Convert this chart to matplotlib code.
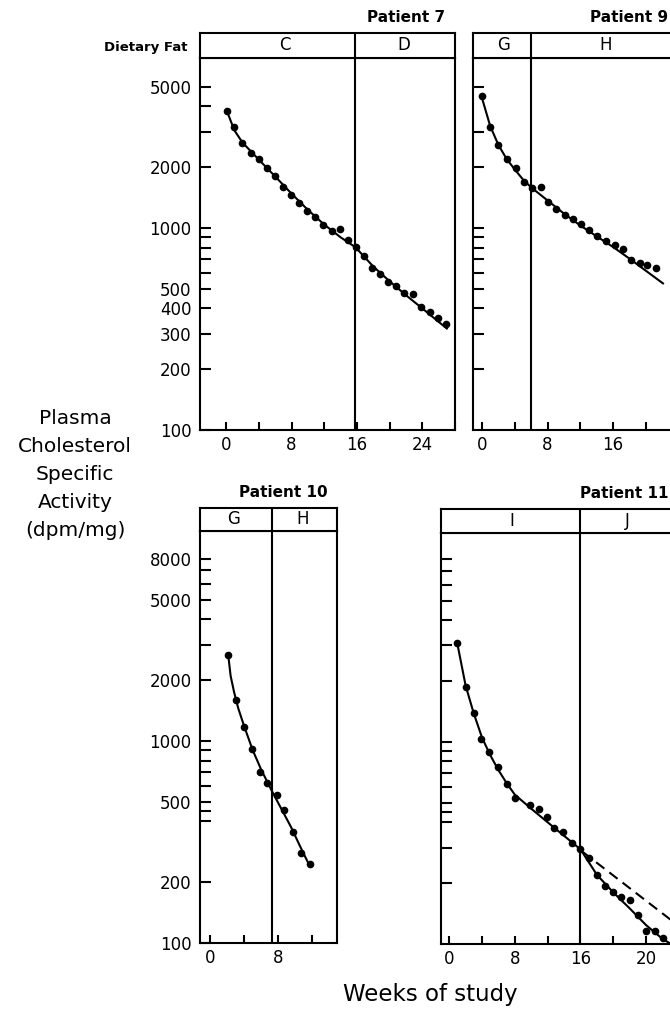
import matplotlib
matplotlib.use("Agg")
from matplotlib import pyplot as plt
from matplotlib.ticker import FixedLocator, FixedFormatter, NullFormatter

# Patient 7 (diet C then D)
p7_weeks = [0.1, 1.0, 2.0, 3.0, 4.0, 5.0, 6.0, 6.9, 7.9, 8.9, 9.9, 10.9, 11.9, 13.0,
            13.9, 14.9, 15.9, 16.9, 17.8, 18.8, 19.8, 20.8, 21.8, 22.9, 23.9, 24.9, 25.9, 26.9]
p7_activity = [3800, 3150, 2630, 2340, 2190, 1980, 1800, 1590, 1460, 1330, 1220, 1130, 1040, 967,
               985, 873, 809, 728, 631, 589, 538, 518, 475, 470, 408, 385, 360, 334]
p7_fit_weeks = [0.2, 1, 2, 4, 6, 8, 10, 12, 14, 15.8, 18, 20, 22, 24, 27]
p7_fit = [3700, 3050, 2650, 2180, 1800, 1480, 1230, 1040, 900, 805, 645, 545, 465, 400, 318]

# Patient 9 (diet G then H)
p9_weeks = [0, 1.0, 2.0, 3.0, 4.1, 5.1, 6.1, 7.2, 8.1, 9.0, 10.1, 11.1, 12.1, 13.1,
            14.1, 15.1, 16.2, 17.2, 18.2, 19.3, 20.2, 21.3]
p9_activity = [4510, 3180, 2580, 2200, 1980, 1700, 1575, 1590, 1340, 1245, 1164, 1112, 1043, 975,
               914, 864, 822, 791, 693, 675, 655, 635]
p9_fit_weeks = [0, 1, 2, 3, 4, 5, 6, 8, 10, 12, 14, 16, 18, 20, 22.1]
p9_fit = [4400, 3200, 2580, 2200, 1950, 1740, 1590, 1370, 1180, 1030, 910, 806, 706, 615, 532]

# Patient 10 (diet G then H)
p10_weeks = [2.1, 3.0, 4.0, 4.9, 5.8, 6.7, 7.8, 8.7, 9.7, 10.7, 11.7]
p10_activity = [2670, 1600, 1170, 913, 705, 622, 541, 455, 356, 280, 246]
p10_fit_weeks = [2.1, 2.4, 2.8, 3.3, 4, 5, 6, 7.3, 8.5, 9.5, 10.5, 11.7]
p10_fit = [2700, 2100, 1750, 1450, 1180, 900, 720, 560, 450, 375, 305, 240]

# Patient 11 (diet I then J), dashed = phase I slope carried on
p11_weeks = [1.0, 2.0, 3.0, 3.9, 4.8, 5.9, 7.0, 8.0, 9.9, 10.9, 11.9, 12.8, 13.9, 15.0,
             16.0, 17.0, 18.0, 19.0, 20.0, 21.0, 22.0, 23.0, 24.0, 25.1, 26.1]
p11_activity = [3080, 1860, 1390, 1035, 890, 750, 618, 530, 488, 464, 426, 377, 360, 317,
                294, 266, 220, 194, 180, 170, 165, 139, 116, 116, 107]
p11_fit_weeks = [1, 2, 3, 4, 5, 6, 7, 8, 10, 12, 14, 16, 18, 20, 22, 24, 26, 27.4]
p11_fit = [3050, 1900, 1380, 1050, 860, 725, 625, 548, 467, 400, 343, 294, 220, 180, 150, 124, 106, 98]
p11_dash_weeks = [16.3, 27.4]
p11_dash = [285, 128]

W, H = 670, 1014
LW = 1.5


def rect(left, right, top, bottom):
    return [left / W, 1 - bottom / H, (right - left) / W, (bottom - top) / H]


def panel(box, header_top, xlim, ylim, divider, phases, title, title_x,
          labeled, minor, show_labels, xlabels):
    left, right, top, bottom = box
    ax = fig.add_axes(rect(left, right, top, bottom))
    ax.set_yscale('log')
    ax.set_xlim(xlim)
    ax.set_ylim(ylim)
    ax.yaxis.set_major_locator(FixedLocator(labeled))
    if show_labels:
        ax.yaxis.set_major_formatter(FixedFormatter([str(v) for v in labeled]))
    else:
        ax.yaxis.set_major_formatter(NullFormatter())
    ax.yaxis.set_minor_locator(FixedLocator(minor))
    ax.yaxis.set_minor_formatter(NullFormatter())
    ax.xaxis.set_major_locator(FixedLocator([0, 8, 16, 24]))
    ax.xaxis.set_major_formatter(FixedFormatter(xlabels))
    ax.xaxis.set_minor_locator(FixedLocator([4, 12, 20, 28]))
    ax.tick_params(axis='y', which='both', direction='in', length=8, width=LW,
                   labelsize=12, pad=6)
    ax.tick_params(axis='x', which='both', direction='in', length=6, width=LW,
                   labelsize=12, pad=4)
    for s in ax.spines.values():
        s.set_linewidth(LW)
    ax.axvline(divider, color='black', lw=LW)

    hd = fig.add_axes(rect(left, right, header_top, top))
    hd.set_xlim(xlim)
    hd.set_ylim(0, 1)
    hd.set_xticks([])
    hd.set_yticks([])
    for s in hd.spines.values():
        s.set_linewidth(LW)
    hd.axvline(divider, color='black', lw=LW)
    for x, name in phases:
        hd.text(x, 0.5, name, ha='center', va='center', fontsize=12)
    fig.text(title_x / W, 1 - (header_top - 15) / H, title, ha='right', va='center',
             fontsize=11, fontweight='bold')
    return ax


fig = plt.figure(figsize=(W / 100, H / 100), dpi=100)

top_minor = [4000, 3000, 900, 800, 700, 600]
ax7 = panel((200, 455, 58, 430), 33, (-3.2, 28.0), (100, 6950), 15.8,
            [(7.2, 'C'), (21.7, 'D')], 'Patient 7', 445,
            [5000, 2000, 1000, 500, 400, 300, 200, 100], top_minor, True,
            ['0', '8', '16', '24'])
ax7.plot(p7_fit_weeks, p7_fit, color='black', lw=LW)
ax7.plot(p7_weeks, p7_activity, 'o', color='black', ms=4.5)

ax9 = panel((473, 681, 58, 430), 33, (-1.1, 24.3), (100, 6950), 6.0,
            [(2.6, 'G'), (15.1, 'H')], 'Patient 9', 668,
            [5000, 2000, 1000, 500, 400, 300, 200], [3000, 900, 800, 700, 600], False,
            ['0', '8', '16', ''])
ax9.plot(p9_fit_weeks, p9_fit, color='black', lw=LW)
ax9.plot(p9_weeks, p9_activity, 'o', color='black', ms=4.5)

bottom_minor = [7000, 6000, 4000, 3000, 900, 800, 700, 600, 450, 400]
ax10 = panel((200, 337, 531, 943), 508, (-1.2, 14.9), (100, 10960), 7.3,
             [(2.7, 'G'), (10.9, 'H')], 'Patient 10', 328,
             [8000, 5000, 2000, 1000, 500, 200, 100], bottom_minor, True,
             ['0', '8', '16', '24'])
ax10.plot(p10_fit_weeks, p10_fit, color='black', lw=LW)
ax10.plot(p10_weeks, p10_activity, 'o', color='black', ms=4.5)

ax11 = panel((441, 674, 533, 944), 509, (-1.0, 27.4), (100, 10800), 16.0,
             [(7.6, 'I'), (21.7, 'J')], 'Patient 11', 668,
             [8000, 5000, 2000, 1000, 500, 200], bottom_minor + [300], False,
             ['0', '8', '16', '20'])
ax11.plot(p11_fit_weeks, p11_fit, color='black', lw=LW)
ax11.plot(p11_dash_weeks, p11_dash, color='black', lw=LW, ls=(0, (5, 3)))
ax11.plot(p11_weeks, p11_activity, 'o', color='black', ms=4.5)

fig.text(188 / W, 1 - 47 / H, 'Dietary Fat', ha='right', va='center',
         fontsize=9.5, fontweight='bold')

ylabel_lines = ['Plasma', 'Cholesterol', 'Specific', 'Activity', '(dpm/mg)']
for i, line in enumerate(ylabel_lines):
    fig.text(75 / W, 1 - (418 + 28 * i) / H, line, ha='center', va='center', fontsize=14.5)

fig.text(430 / W, 1 - 994 / H, 'Weeks of study', ha='center', va='center', fontsize=16.5)

plt.savefig('out.png', dpi=100)
